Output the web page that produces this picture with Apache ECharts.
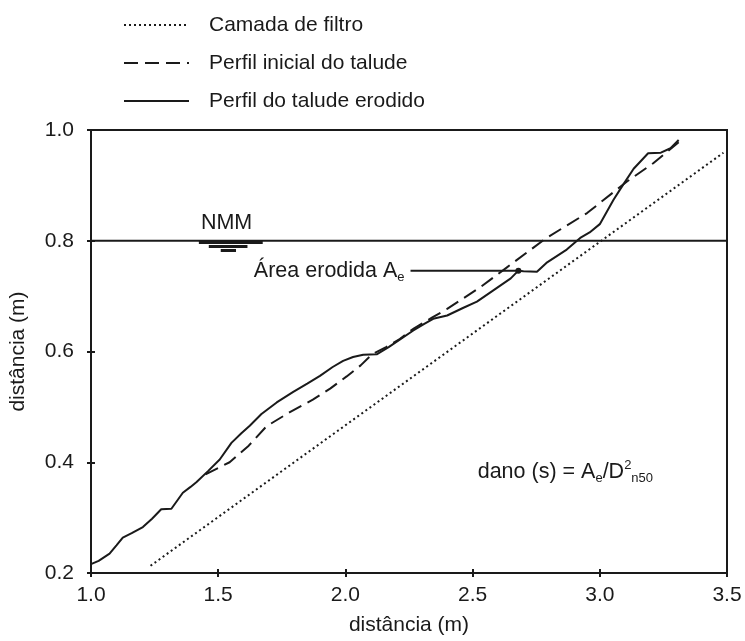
<!DOCTYPE html>
<html><head><meta charset="utf-8">
<script src="https://cdn.jsdelivr.net/npm/echarts@6/dist/echarts.min.js"></script>
<style>html,body{margin:0;padding:0;background:#fff}#c{width:745px;height:641px}</style>
</head><body><div id="c"></div>
<script>
// ---- data ----
const xTicks = [1.0, 1.5, 2.0, 2.5, 3.0, 3.5];
const yTicks = [0.2, 0.4, 0.6, 0.8, 1.0];
const seriesNames = ['Camada de filtro', 'Perfil inicial do talude', 'Perfil do talude erodido'];
const filtro = [[1.234, 0.213], [3.486, 0.959]];
const inicial = [[1.45, 0.378], [1.545, 0.40], [1.62, 0.43], [1.69, 0.465], [1.78, 0.49], [1.872, 0.513],
  [1.94, 0.533], [2.005, 0.555], [2.06, 0.575], [2.105, 0.595], [2.16, 0.608], [2.215, 0.623],
  [2.27, 0.642], [2.34, 0.661], [2.40, 0.677], [2.53, 0.716], [2.635, 0.752], [2.79, 0.805],
  [2.95, 0.85], [3.107, 0.907], [3.21, 0.94], [3.31, 0.978]];
const erodido = [[1.0, 0.216], [1.03, 0.222], [1.073, 0.235], [1.1, 0.25], [1.125, 0.264], [1.16, 0.272],
  [1.204, 0.283], [1.24, 0.298], [1.276, 0.315], [1.316, 0.316], [1.361, 0.345], [1.39, 0.355],
  [1.414, 0.364], [1.46, 0.384], [1.506, 0.405], [1.552, 0.435], [1.59, 0.452], [1.624, 0.466],
  [1.67, 0.487], [1.73, 0.508], [1.795, 0.527], [1.85, 0.542], [1.90, 0.556], [1.95, 0.572],
  [1.991, 0.583], [2.03, 0.590], [2.07, 0.594], [2.123, 0.595], [2.17, 0.608], [2.215, 0.622],
  [2.267, 0.638], [2.31, 0.65], [2.345, 0.659], [2.40, 0.665], [2.464, 0.679], [2.517, 0.690],
  [2.58, 0.710], [2.65, 0.732], [2.68, 0.746], [2.70, 0.745], [2.753, 0.744], [2.79, 0.76],
  [2.87, 0.784], [2.923, 0.805], [2.96, 0.815], [3.0, 0.830], [3.054, 0.874], [3.09, 0.90],
  [3.133, 0.930], [3.19, 0.958], [3.24, 0.959], [3.278, 0.967], [3.31, 0.982]];
const nmmLevel = 0.8;
const nmmSymbol = [[1.424, 1.675, 0.797], [1.463, 1.615, 0.790], [1.51, 1.57, 0.782]]; // [x0, x1, y]
const nmmLabelPos = [1.533, 0.832];
const areaArrow = [[2.256, 0.746], [2.68, 0.746]];
const danoLabelPos = [2.52, 0.382];

const INK = '#1a1a1a';
const FONT = '"Liberation Sans", Arial, Helvetica, sans-serif';
const fmt = v => Number(v).toFixed(1);

const chart = echarts.init(document.getElementById('c'), null, {renderer: 'canvas'});

const baseX = {type: 'value', min: xTicks[0], max: xTicks[xTicks.length - 1], interval: 0.5, splitLine: {show: false}};
const baseY = {type: 'value', min: yTicks[0], max: yTicks[yTicks.length - 1], interval: 0.2, splitLine: {show: false}};
const txt = {color: INK, fontFamily: FONT, textBorderWidth: 0, textShadowBlur: 0, opacity: 1};
const subRich = {
  sub: Object.assign({fontSize: 13, lineHeight: 16, verticalAlign: 'bottom'}, txt),
  sup: Object.assign({fontSize: 13, lineHeight: 20, verticalAlign: 'top'}, txt),
  main: Object.assign({fontSize: 21.5, lineHeight: 26}, txt)
};
const annoLabel = (extra) => Object.assign({show: true, color: INK, textBorderWidth: 0, opacity: 1, rich: subRich}, extra);

chart.setOption({
  animation: false,
  backgroundColor: '#fff',
  textStyle: {fontFamily: FONT, color: INK},
  grid: {left: 90, right: 18, top: 130, bottom: 67, show: true, borderColor: INK, borderWidth: 2, backgroundColor: 'transparent'},
  legend: {
    data: seriesNames, orient: 'vertical', left: 118, top: 9, itemWidth: 65, itemHeight: 14, itemGap: 16,
    itemStyle: {color: 'rgba(0,0,0,0)', borderWidth: 0, opacity: 0},
    textStyle: {fontSize: 21, lineHeight: 22, color: INK, fontFamily: FONT, padding: [0, 0, 0, 15]},
    selectedMode: false
  },
  xAxis: [
    Object.assign({}, baseX, {
      name: 'distância (m)', nameLocation: 'middle', nameGap: 42,
      nameTextStyle: {fontSize: 21, color: INK, fontFamily: FONT},
      axisLine: {show: true, lineStyle: {color: INK, width: 2}},
      axisTick: {show: true, inside: false, length: 4, lineStyle: {color: INK, width: 2}},
      axisLabel: {show: true, margin: 12, fontSize: 21, color: INK, fontFamily: FONT, formatter: fmt, showMinLabel: true, showMaxLabel: true}
    }),
    Object.assign({}, baseX, {
      position: 'bottom', axisLine: {show: false},
      axisTick: {show: true, inside: true, length: 4, lineStyle: {color: INK, width: 2}},
      axisLabel: {show: false}
    })
  ],
  yAxis: [
    Object.assign({}, baseY, {
      name: 'distância (m)', nameLocation: 'middle', nameGap: 62, nameRotate: 90,
      nameTextStyle: {fontSize: 21, color: INK, fontFamily: FONT},
      axisLine: {show: true, lineStyle: {color: INK, width: 2}},
      axisTick: {show: true, inside: false, length: 4, lineStyle: {color: INK, width: 2}},
      axisLabel: {show: true, margin: 17, fontSize: 21, color: INK, fontFamily: FONT, formatter: fmt}
    }),
    Object.assign({}, baseY, {
      position: 'left', axisLine: {show: false},
      axisTick: {show: true, inside: true, length: 4, lineStyle: {color: INK, width: 2}},
      axisLabel: {show: false}
    })
  ],
  series: [
    {name: seriesNames[0], type: 'line', data: filtro, symbol: 'none', silent: true,
     lineStyle: {color: INK, width: 2, type: [2, 3]}, itemStyle: {color: INK}},
    {name: seriesNames[1], type: 'line', data: inicial, symbol: 'none', silent: true,
     lineStyle: {color: INK, width: 2, type: [14, 7]}, itemStyle: {color: INK}},
    {name: seriesNames[2], type: 'line', data: erodido, symbol: 'none', silent: true,
     lineStyle: {color: INK, width: 2}, itemStyle: {color: INK}},
    {name: 'nmm-line', type: 'line', data: [[xTicks[0], nmmLevel], [xTicks[xTicks.length - 1], nmmLevel]],
     symbol: 'none', silent: true, lineStyle: {color: INK, width: 2}},
    {name: 'nmm-symbol', type: 'lines', coordinateSystem: 'cartesian2d', silent: true,
     data: nmmSymbol.map(s => ({coords: [[s[0], s[2]], [s[1], s[2]]]})),
     lineStyle: {color: INK, width: 3, opacity: 1}},
    {name: 'area-arrow', type: 'line', silent: true, symbol: 'none',
     data: [
       {value: areaArrow[0]},
       {value: areaArrow[1], symbol: 'circle', symbolSize: 6}
     ],
     lineStyle: {color: INK, width: 2}, itemStyle: {color: INK}},
    {name: 'annotations', type: 'scatter', silent: true, symbol: 'circle', symbolSize: 0,
     itemStyle: {color: INK, opacity: 1},
     data: [
       {value: nmmLabelPos, label: annoLabel({position: 'inside', formatter: '{main|NMM}'})},
       {value: areaArrow[0], label: annoLabel({position: 'left', distance: 6,
         formatter: '{main|Área erodida A}{sub|e}'})},
       {value: danoLabelPos, label: annoLabel({position: 'right', distance: 0,
         formatter: '{main|dano (s) = A}{sub|e}{main|/D}{sup|2}{sub|n50}'})}
     ]}
  ]
});
</script></body></html>
